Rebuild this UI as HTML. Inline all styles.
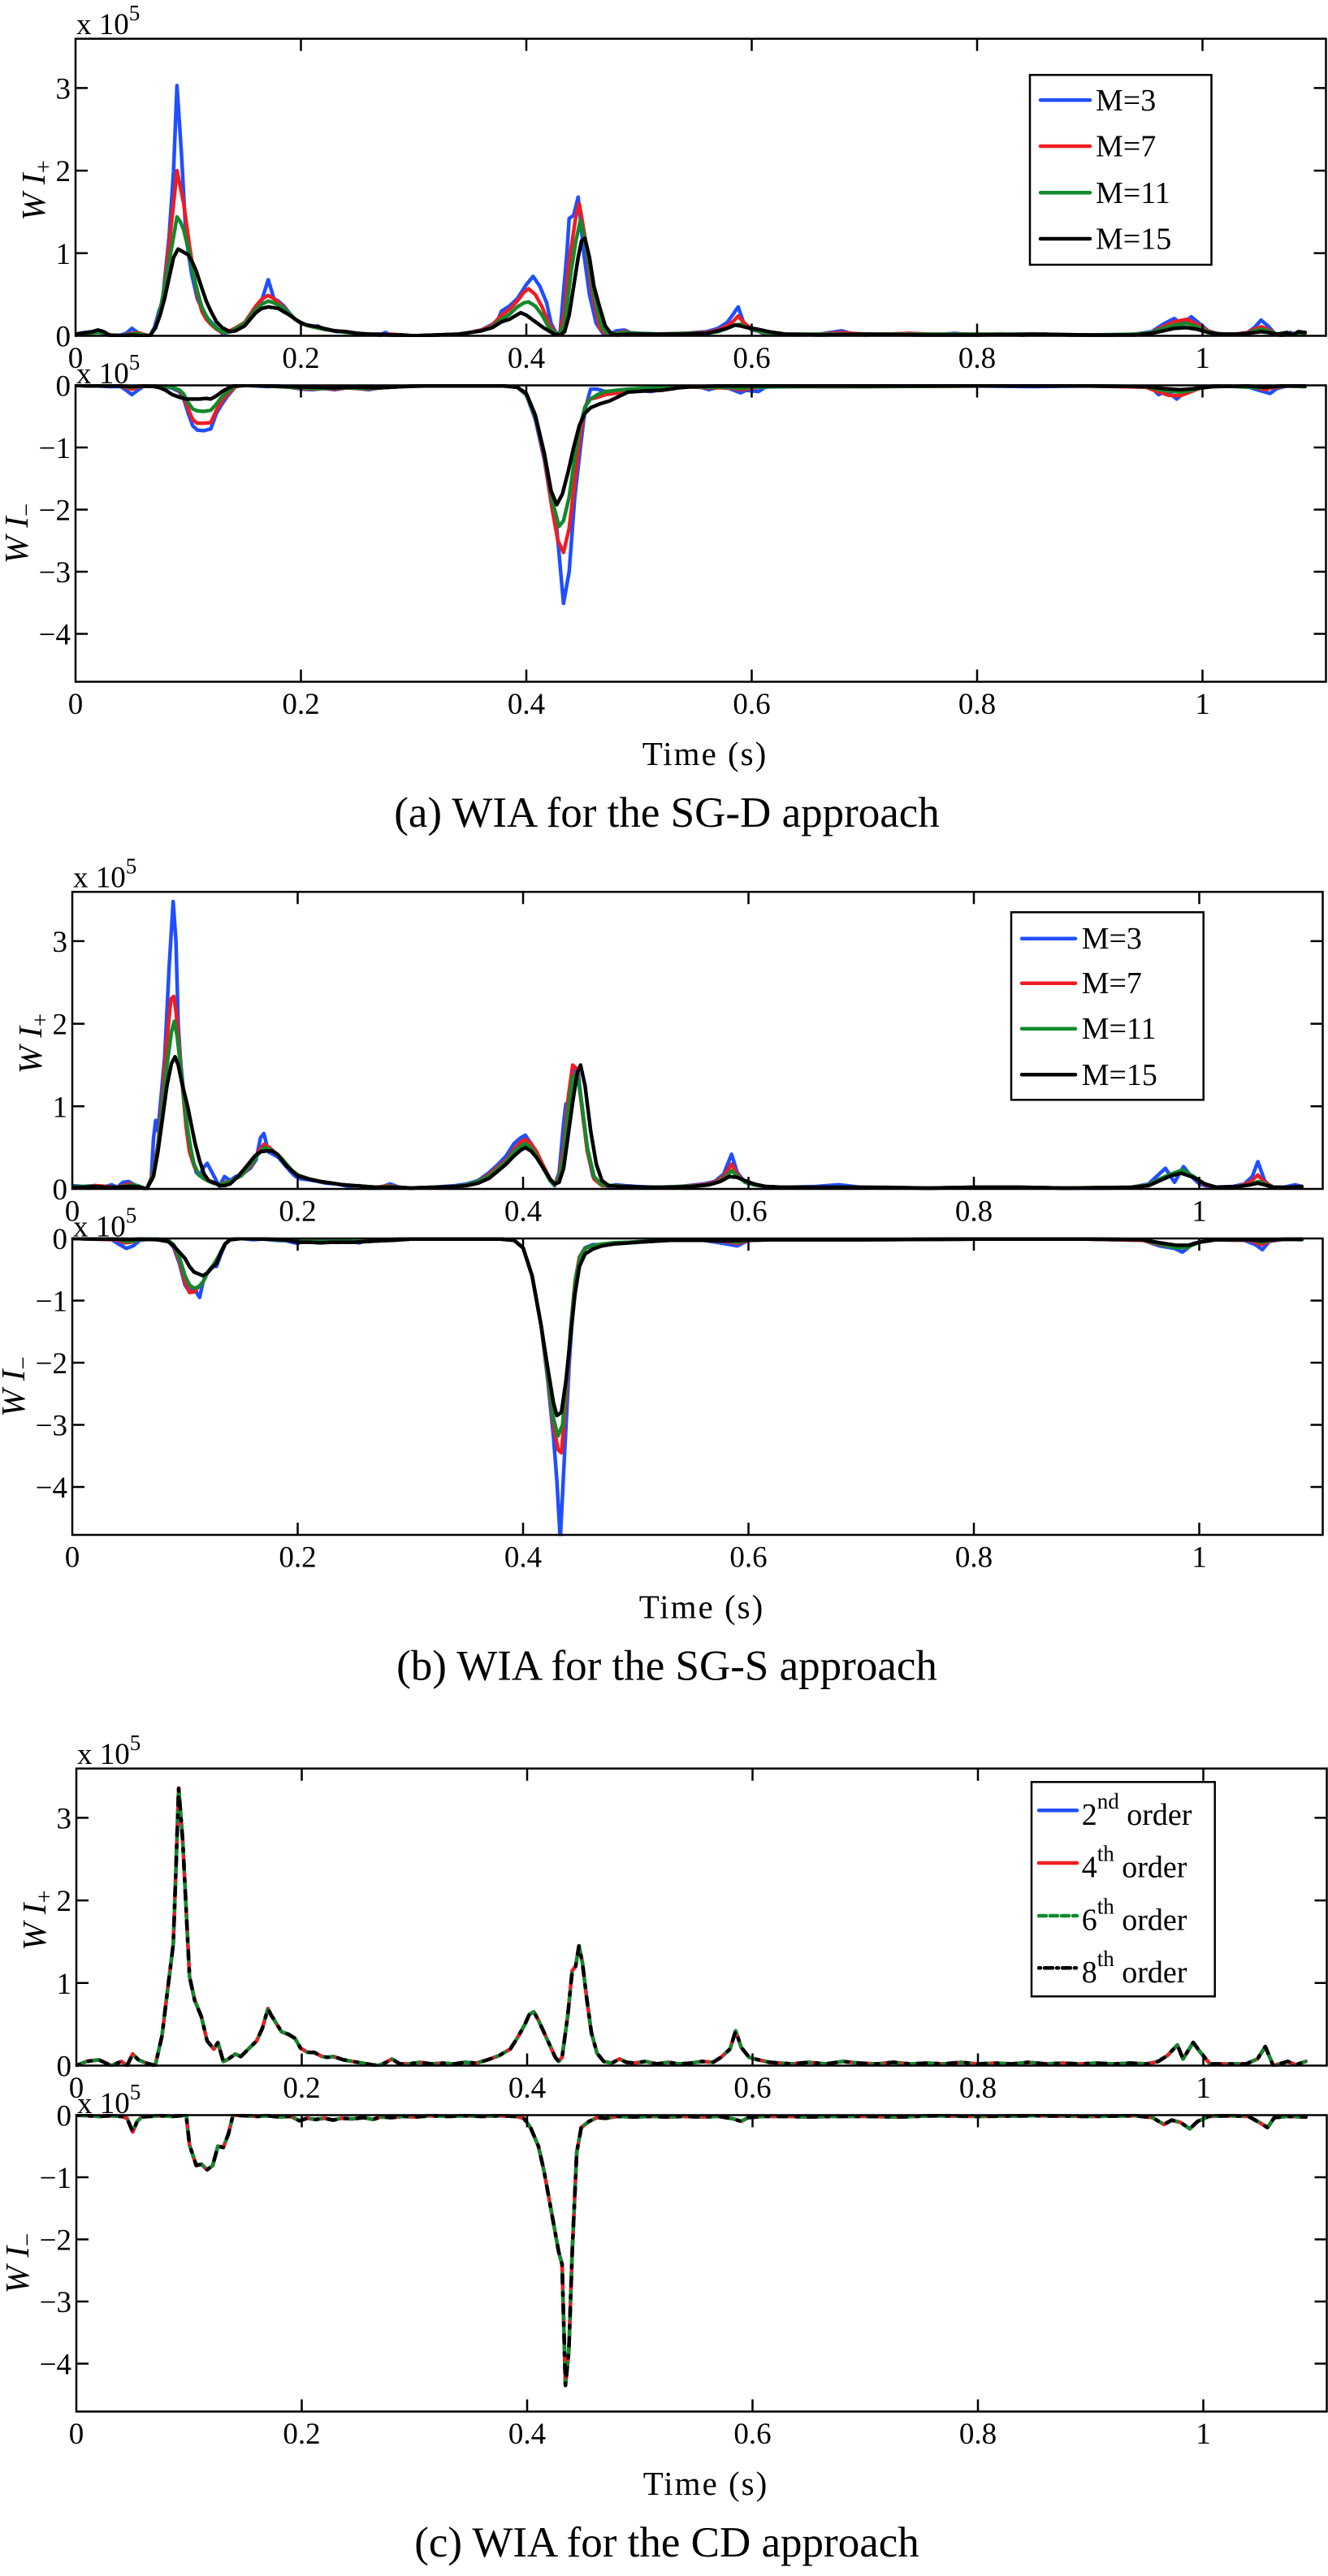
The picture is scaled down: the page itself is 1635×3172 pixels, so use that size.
<!DOCTYPE html>
<html><head><meta charset="utf-8"><style>
html,body{margin:0;padding:0;background:#fff}
svg{display:block}
text{font-family:"Liberation Serif","Times New Roman",serif;fill:#000}
.c{fill:none;stroke-width:4.5;stroke-linejoin:round;stroke-linecap:round}
.b{stroke:#1f4fff}.r{stroke:#ee1d23}.g{stroke:#128a2c}.k{stroke:#000}
.ax{fill:none;stroke:#000;stroke-width:2.5}
.t{font-size:37px}
.lg{font-size:38px}
</style></head><body>
<svg width="1635" height="3172" viewBox="0 0 1635 3172" xmlns="http://www.w3.org/2000/svg">
<defs>
<clipPath id="cpP"><rect x="92" y="46" width="1542" height="369"/></clipPath>
<clipPath id="cpM"><rect x="92" y="473" width="1542" height="368"/></clipPath>
<polyline id="cmain" vector-effect="non-scaling-stroke" points="0,0 9,5 20,7 31,0 40,5 45,0 50,14 55,7 62,3 70,0 76,36 81,92 86,147 88.4,239 90.8,336 94.4,272 100.4,108 105,79 111,59 116,30 122,20 125.6,28 130.4,5 135,8 141,14 146,11 160,30 165,45 170,69 172.5,62 182,41 188,38 194,33 199,21 205,16 211,16 218,11 223,10 228,11 237,7 245,5 254,3 262,1 268,0 275,4 280,8 287,2 295,2 305,4 315,2 325,3 335,2 345,4 355,3 365,7 375,12 385,20 392,35 398,50 402,62 406,65 410,55 415,40 420,25 425,10 428,5 431,10 436,60 440,115 443,120 446,145 449,125 453,80 457,40 462,15 468,5 475,3 482,8 488,4 495,3 505,5 515,2 525,4 535,2 545,3 555,5 565,4 572,10 580,20 585,42 590,22 597,10 605,7 615,4 625,3 635,2 650,4 665,2 680,5 695,3 710,2 725,4 740,2 755,3 770,2 785,4 800,2 815,3 830,2 845,4 860,2 875,3 890,2 905,3 920,2 935,3 950,2 960,5 968,12 977,25 982,8 991,28 998,15 1006,2 1020,2 1038,2 1048,8 1055,23 1062,0 1070,3 1075,5 1082,1 1091,5"/>
<polyline id="cminus" vector-effect="non-scaling-stroke" points="0,0 10,-1 20,-2 30,-1 40,-2 45,-5 50,-27 54,-10 58,-3 65,-2 75,-1 85,-2 92,-1 97.5,0 100.4,-48 106.4,-81 111,-79 116,-88 121,-81 125.6,-50 130.4,-52 135,-30 139,0 150,-1 160,-2 170,-1 180,-3 190,-2 198,-9 205,-5 212,-7 220,-5 228,-8 235,-5 245,-6 255,-4 263,-7 270,-3 280,-4 290,-2 300,-3 315,-1 330,-2 345,-1 360,-2 375,-1 390,-2 397,-5 403,-20 410,-50 415,-90 420,-140 425,-190 428,-220 431,-240 434,-435 437,-380 440,-220 444,-60 448,-20 455,-10 462,-4 470,-5 480,-2 495,-3 510,-2 525,-3 540,-2 555,-3 570,-2 583,-6 590,-10 596,-4 610,-2 630,-2 650,-3 670,-2 700,-2 730,-3 760,-1 800,-2 850,-1 900,-2 940,-1 955,-4 965,-15 972,-8 980,-12 988,-22 995,-10 1005,-2 1020,-1 1040,-2 1050,-12 1057,-20 1063,-4 1075,-2 1091,-3"/>
<path id="ticks" class="ax" d="M370.5,47.7v15M648,47.7v15M925.5,47.7v15M1203,47.7v15M1480.5,47.7v15M370.5,413.5v-15M648,413.5v-15M925.5,413.5v-15M1203,413.5v-15M1480.5,413.5v-15M370.5,474.5v15M648,474.5v15M925.5,474.5v15M1203,474.5v15M1480.5,474.5v15M370.5,839.5v-15M648,839.5v-15M925.5,839.5v-15M1203,839.5v-15M1480.5,839.5v-15M93,311.8h15M93,210.1h15M93,108.4h15M1632.5,311.8h-15M1632.5,210.1h-15M1632.5,108.4h-15M93,551h15M93,627.5h15M93,704h15M93,780.5h15M1632.5,551h-15M1632.5,627.5h-15M1632.5,704h-15M1632.5,780.5h-15"/>
<g id="frame">
<rect class="ax" x="93" y="47.7" width="1539.5" height="365.8"/>
<rect class="ax" x="93" y="474.5" width="1539.5" height="365"/>
<use href="#ticks"/>
<g class="t">
<text x="87" y="426.5" text-anchor="end">0</text>
<text x="87" y="324.8" text-anchor="end">1</text>
<text x="87" y="223.1" text-anchor="end">2</text>
<text x="87" y="121.4" text-anchor="end">3</text>
<text x="87" y="487.5" text-anchor="end">0</text>
<text x="87" y="564" text-anchor="end">−1</text>
<text x="87" y="640.5" text-anchor="end">−2</text>
<text x="87" y="717" text-anchor="end">−3</text>
<text x="87" y="793.5" text-anchor="end">−4</text>
<g text-anchor="middle">
<text x="93" y="453">0</text><text x="370.5" y="453">0.2</text><text x="648" y="453">0.4</text><text x="925.5" y="453">0.6</text><text x="1203" y="453">0.8</text><text x="1480.5" y="453">1</text>
<text x="93" y="879">0</text><text x="370.5" y="879">0.2</text><text x="648" y="879">0.4</text><text x="925.5" y="879">0.6</text><text x="1203" y="879">0.8</text><text x="1480.5" y="879">1</text>
</g>
<text x="94" y="42">x 10<tspan dy="-17" font-size="27">5</tspan></text>
<text x="94" y="472">x 10<tspan dy="-17" font-size="27">5</tspan></text>
</g>
<text transform="translate(55,234.5) rotate(-90)" text-anchor="middle" font-size="41" font-style="italic">W I<tspan dy="8" font-size="29" font-style="normal">+</tspan></text>
<text transform="translate(34,657) rotate(-90)" text-anchor="middle" font-size="41" font-style="italic">W I<tspan dy="8" font-size="29" font-style="normal">−</tspan></text>
<text x="868" y="942" text-anchor="middle" font-size="41" letter-spacing="2">Time (s)</text>
</g>
</defs>

<!-- ============ PANEL A ============ -->
<g>
<g clip-path="url(#cpP)"><g transform="translate(93,413.5) scale(1.3875,-1.017)">
<polyline class="c b" vector-effect="non-scaling-stroke" points="0,2 8,4 15,5 20,7 25,3 30,0 40,1 45,3 50,9 55,4 60,1 66,0 70,10 74,30 77,40 80,80 83,120 87,200 90,303 94,220 98,120 103,75 108,45 113,30 118,20 125,10 130,3 135,4 140,8 145,11 150,15 155,25 160,35 165,42 171,68 176,45 180,42 185,36 190,27 195,20 198,17 205,13 210,11 215,12 220,8 225,7 232,5 240,5 250,3 260,2 270,1 275,4 280,1 290,0 300,0 320,1 340,2 350,4 360,7 370,14 375,20 378,30 385,36 392,45 400,62 406,72 412,60 418,40 422,15 427,2 430,5 436,100 438,142 442,146 446,168 451,100 456,50 462,15 468,3 474,2 480,6 487,7 492,4 500,3 520,2 540,3 560,5 570,9 578,16 583,25 588,35 593,15 600,7 605,6 610,3 620,2 640,1 660,2 680,6 690,2 700,1 720,2 740,3 760,1 780,3 800,1 820,2 840,1 860,2 880,1 900,0 920,1 940,2 955,5 965,14 975,21 982,14 990,23 998,14 1005,6 1012,3 1020,2 1030,2 1040,4 1046,10 1052,19 1058,12 1064,3 1070,0 1078,4 1084,1 1091,4"/>
<polyline class="c r" vector-effect="non-scaling-stroke" points="0,1 10,2 20,5 25,4 30,1 40,0 50,3 55,4 60,2 66,0 71,10 75,30 79,60 83,110 87,160 90,200 93,180 96,160 101,110 105,75 108,50 112,30 116,20 120,14 125,8 130,4 135,5 140,8 150,16 160,36 165,44 171,49 176,45 183,37 190,27 195,20 200,15 210,11 220,8 230,6 240,5 250,3 260,2 270,1 280,2 290,1 300,0 320,1 340,2 350,4 360,7 370,13 378,25 385,32 392,42 398,53 402,57 408,50 414,35 420,15 426,3 430,4 434,30 438,90 444,145 447,160 452,120 458,55 465,10 470,3 476,2 482,4 488,5 495,3 510,2 540,3 560,4 570,7 578,12 584,18 588,24 593,16 600,8 610,4 620,2 640,2 660,2 680,4 700,2 720,2 740,3 760,2 780,2 800,2 820,2 840,1 860,2 880,1 900,1 920,1 940,2 955,4 965,11 975,17 986,20 995,14 1005,6 1012,3 1020,2 1030,2 1040,4 1046,8 1052,11 1058,8 1064,3 1070,1 1080,2 1091,4"/>
<polyline class="c g" vector-effect="non-scaling-stroke" points="0,2 10,3 20,4 25,3 30,1 40,0 50,2 55,3 60,1 66,0 71,10 75,30 79,58 83,90 87,120 90,144 93,138 96,128 101,100 105,72 108,55 112,35 116,24 120,16 125,9 130,5 135,4 140,7 150,15 160,32 165,38 171,42 176,40 183,35 190,27 195,20 200,15 210,11 220,8 230,6 240,4 250,3 260,2 270,1 280,1 290,1 300,0 320,1 340,2 350,4 360,6 370,11 378,20 385,26 392,35 398,40 402,41 408,36 414,25 420,10 426,3 430,3 434,15 440,80 444,115 448,140 453,110 460,50 467,10 472,3 480,3 488,4 500,3 520,2 540,3 560,3 570,5 578,9 585,13 590,14 596,10 605,6 615,3 630,2 660,2 700,2 750,2 800,2 850,2 900,1 940,2 955,4 965,9 975,13 986,15 995,11 1005,5 1015,2 1030,2 1040,3 1046,6 1052,8 1058,6 1066,2 1080,2 1091,3"/>
<polyline class="c k" vector-effect="non-scaling-stroke" points="0,2 10,4 15,5 20,7 25,5 30,1 40,0 50,1 60,0 66,0 71,10 75,25 79,45 83,70 87,95 91,105 95,102 100,98 104,88 107,79 112,58 116,42 120,30 125,17 130,10 137,5 142,6 150,12 160,28 165,33 171,35 176,34 180,33 185,29 190,25 195,20 200,16 205,13 210,12 215,11 220,9 230,6 240,5 250,3 260,2 270,2 280,1 290,1 300,0 320,1 340,2 350,4 360,6 370,10 378,17 385,20 390,24 395,28 400,25 405,20 410,15 415,10 420,6 425,2 430,1 434,5 438,25 442,60 446,95 449,115 452,118 456,95 460,60 465,35 470,12 475,3 480,1 490,2 500,2 520,2 540,2 560,3 570,6 578,9 585,13 590,12 596,10 605,8 615,5 630,2 660,1 700,2 750,1 800,1 850,2 900,1 940,1 955,3 965,6 975,9 985,10 995,8 1005,4 1015,2 1030,2 1040,3 1046,4 1052,5 1058,4 1066,2 1075,4 1080,1 1085,5 1091,4"/>
</g></g>
<g clip-path="url(#cpM)"><g transform="translate(93,474.5) scale(1.3875,-0.765)">
<polyline class="c b" vector-effect="non-scaling-stroke" points="0,0 20,-1 30,-2 40,-2 45,-8 50,-15 55,-8 60,-2 66,-1 75,-2 85,-4 92,-10 96,-22 100,-45 104,-65 108,-72 114,-73 120,-70 125,-45 130,-30 135,-17 142,-2 150,0 160,-1 170,-2 180,-1 190,-3 200,-6 210,-7 220,-5 230,-7 240,-4 250,-5 260,-7 270,-4 280,-3 290,-2 300,-1 320,0 340,-1 360,-1 380,-1 392,-3 400,-15 408,-55 416,-120 423,-200 427,-230 433,-351 438,-300 443,-180 448,-100 452,-40 457,-6 463,-6 470,-10 478,-12 488,-10 500,-8 510,-10 520,-7 530,-3 540,-2 555,-3 562,-7 570,-3 580,-5 590,-12 595,-8 606,-10 612,-3 620,-1 640,-2 660,-1 700,-2 750,-1 800,-1 850,-2 900,-1 940,-2 955,-4 961,-15 968,-8 977,-22 985,-10 995,-4 1010,-1 1040,-2 1050,-8 1060,-13 1066,-5 1075,-1 1091,-2"/>
<polyline class="c r" vector-effect="non-scaling-stroke" points="0,0 20,-1 40,-1 45,-4 50,-6 55,-3 60,-1 75,-2 85,-3 92,-8 96,-18 100,-38 104,-55 108,-61 114,-61 120,-60 125,-40 130,-25 135,-14 142,-2 150,0 170,-1 190,-3 200,-5 210,-6 220,-5 230,-6 240,-4 250,-5 260,-6 270,-4 280,-3 300,-1 340,-1 380,-1 392,-3 400,-15 408,-50 416,-115 423,-200 428,-250 433,-269 438,-230 443,-155 448,-80 452,-35 456,-22 462,-20 470,-15 478,-13 488,-11 500,-9 510,-9 520,-6 530,-3 540,-2 560,-4 580,-4 590,-7 600,-5 610,-2 640,-2 700,-2 800,-1 900,-1 950,-3 960,-10 970,-16 980,-17 990,-10 1000,-3 1020,-1 1045,-3 1055,-7 1062,-4 1075,-1 1091,-2"/>
<polyline class="c g" vector-effect="non-scaling-stroke" points="0,0 20,-1 40,-1 48,-3 55,-2 70,-1 85,-3 92,-7 96,-14 100,-28 104,-38 108,-41 114,-42 120,-40 125,-30 130,-18 135,-10 142,-1 150,0 170,-1 190,-3 200,-4 210,-5 220,-5 240,-4 260,-5 280,-3 300,-1 340,-1 380,-1 392,-3 400,-15 408,-50 416,-110 423,-185 429,-227 433,-218 438,-180 443,-115 448,-63 452,-35 457,-22 463,-15 470,-10 480,-8 490,-6 500,-5 520,-4 540,-2 560,-3 580,-3 590,-5 600,-3 640,-2 700,-2 800,-1 900,-1 950,-2 965,-8 980,-11 990,-8 1000,-3 1020,-1 1050,-4 1058,-3 1075,-1 1091,-2"/>
<polyline class="c k" vector-effect="non-scaling-stroke" points="0,0 10,-1 20,-1 30,-1 40,-1 50,-2 60,-1 70,-2 75,-4 80,-8 86,-15 92,-19 98,-22 104,-22 110,-22 116,-21 120,-22 125,-17 130,-10 135,-5 140,-1 150,0 170,-1 190,-2 210,-3 230,-4 250,-3 270,-4 290,-2 310,-1 340,-1 380,-1 392,-3 400,-13 408,-48 416,-110 422,-170 427,-192 432,-175 437,-140 442,-100 447,-65 452,-45 457,-36 465,-30 474,-25 482,-18 490,-11 505,-9 520,-8 535,-4 550,-2 570,-1 600,-1 640,-1 700,-1 800,-1 900,-1 950,-2 965,-5 980,-7 995,-5 1010,-2 1040,-1 1055,-3 1070,-1 1091,-1"/>
</g></g>
<use href="#frame"/>
<rect x="1268" y="92.3" width="223.5" height="233.7" fill="#fff" stroke="#000" stroke-width="2.5"/>
<line class="c b" x1="1281" y1="123.3" x2="1342" y2="123.3"/>
<line class="c r" x1="1281" y1="180" x2="1342" y2="180"/>
<line class="c g" x1="1281" y1="237.3" x2="1342" y2="237.3"/>
<line class="c k" x1="1281" y1="294" x2="1342" y2="294"/>
<g class="lg">
<text x="1349" y="136">M=3</text>
<text x="1349" y="192.7">M=7</text>
<text x="1349" y="250">M=11</text>
<text x="1349" y="306.7">M=15</text>
</g>
<text x="821" y="1018" text-anchor="middle" font-size="53">(a) WIA for the SG-D approach</text>
</g>

<!-- ============ PANEL B ============ -->
<g transform="translate(-4,1050.5)">
<g clip-path="url(#cpP)"><g transform="translate(93,413.5) scale(1.3875,-1.017)">
<polyline class="c b" vector-effect="non-scaling-stroke" points="0,4 10,3 20,4 30,3 35,5 40,2 45,8 50,9 55,5 60,2 66,0 70,10 72,60 74,83 76,70 78,100 82,160 86,270 89.5,348 92,300 94,200 96,156 100,100 102.5,66 106,40 110,20 113,16 116,25 119.7,31 124,20 130.5,3 135,15 140,10 145,15 150,17 158,25 163,35 167,62 170,67 174,45 178,42 183,38 188,30 193,22 198,15 203,12 210,11 218,9 225,7 235,6 245,3 255,4 262,1 272,1 282,6 290,2 300,1 320,2 340,4 350,6 360,10 370,20 378,30 385,40 392,55 398,62 402,65 407,55 412,45 418,25 424,10 428,4 432,20 436,80 438,103 442,105 445,148 449,140 453,90 458,40 462,15 468,6 475,3 482,5 490,4 500,3 520,2 540,3 560,6 570,9 578,18 585,42 590,20 597,8 605,5 615,3 630,2 660,3 680,5 700,2 720,2 760,1 800,2 840,2 880,1 920,1 940,2 955,6 962,15 970,25 978,8 986,27 993,15 1000,6 1010,2 1030,3 1040,6 1047,15 1052,33 1058,10 1064,2 1075,2 1085,5 1091,3"/>
<polyline class="c r" vector-effect="non-scaling-stroke" points="0,2 10,2 20,4 30,3 40,2 45,4 50,6 55,5 60,2 66,0 72,20 76,55 80,110 84,180 87.5,230 90,233 92,215 95,170 98,120 101,75 104,45 108,28 112,18 116,14 120,11 125,8 130,5 135,8 140,9 150,16 160,30 165,45 170,54 175,50 180,44 185,38 190,30 195,22 200,17 210,12 220,9 230,7 240,5 250,4 260,3 270,2 280,4 290,2 300,1 320,2 340,3 350,5 360,9 370,18 378,27 385,35 392,48 398,57 402,60 407,55 412,45 418,28 424,12 428,5 432,15 436,50 440,110 444,150 448,145 452,100 457,45 463,12 470,4 480,4 490,3 500,2 520,2 540,3 560,5 570,8 578,15 585,30 590,18 597,8 605,5 615,3 630,2 660,2 700,2 760,1 800,2 840,2 880,1 940,2 955,5 965,12 975,18 985,22 995,14 1005,5 1015,2 1035,3 1045,8 1052,17 1058,8 1066,2 1080,2 1091,3"/>
<polyline class="c g" vector-effect="non-scaling-stroke" points="0,3 10,3 20,3 30,2 40,2 50,4 55,5 60,3 66,0 72,18 76,50 80,100 84,150 88,190 90.5,203 93,185 96,150 99,110 102,75 105,50 108,30 112,18 116,13 120,10 125,7 130,5 135,7 140,9 150,16 160,32 165,42 170,50 175,48 180,44 185,38 190,30 195,22 200,17 210,12 220,9 230,7 240,5 250,4 260,3 270,2 280,3 290,2 300,1 320,2 340,3 350,5 360,9 370,16 378,25 385,33 392,45 398,52 402,55 407,50 412,40 418,25 424,10 428,5 432,12 436,40 440,95 444,135 448,140 452,105 457,50 463,15 470,5 480,4 490,3 500,2 520,2 540,3 560,4 570,7 578,12 585,22 590,16 597,8 605,5 615,3 630,2 660,2 700,2 760,1 800,2 840,2 880,1 940,2 955,5 965,12 975,18 985,23 995,15 1005,6 1015,2 1035,3 1045,5 1052,9 1058,6 1066,2 1080,2 1091,2"/>
<polyline class="c k" vector-effect="non-scaling-stroke" points="0,2 10,2 20,3 30,2 40,2 50,3 55,3 60,2 66,0 72,15 76,45 80,85 84,125 88,152 91.2,160 94,150 97,130 102.5,99 106,75 109,55 113,34 117,18 121,10 127,7 131,4 135,4 140,6 147,15 155,28 162,40 167,45 172,46 177,46 182,42 186,35 190,28 195,22 200,16 210,12 220,9 230,7 240,5 250,4 260,3 270,2 280,2 290,2 300,1 320,2 340,3 350,4 360,7 370,13 378,22 385,30 392,40 398,47 402,50 407,46 412,38 418,25 424,12 428,6 432,8 436,25 440,65 444,105 448,140 451,150 455,125 460,70 465,30 470,10 476,4 485,3 495,3 510,2 530,2 550,3 565,5 575,9 583,15 590,14 597,10 605,6 615,3 630,2 660,2 700,2 760,1 800,2 840,2 880,1 940,2 955,4 965,10 975,16 984,19 995,14 1005,6 1015,2 1035,3 1045,5 1052,7 1058,5 1066,2 1080,2 1091,3"/>
</g></g>
<g clip-path="url(#cpM)"><g transform="translate(93,474.5) scale(1.3875,-0.765)">
<polyline class="c b" vector-effect="non-scaling-stroke" points="0,0 20,-1 35,-2 42,-10 48,-16 54,-12 60,-3 70,-1 85,-3 90,-15 95,-40 100,-75 103,-83 108,-80 113,-95 116,-70 120,-55 124,-45 128,-45 132,-25 136,-8 140,-2 150,0 160,-2 170,-1 180,-3 190,-4 200,-8 205,-4 215,-5 225,-4 235,-6 245,-4 255,-7 260,-3 270,-4 280,-3 290,-1 300,-1 340,-1 380,-1 392,-3 400,-15 408,-60 416,-140 422,-230 427,-320 430,-390 433,-485 437,-340 441,-200 445,-90 450,-30 455,-15 462,-10 470,-10 480,-8 495,-6 510,-5 530,-3 560,-3 575,-7 590,-12 600,-3 620,-2 660,-2 700,-2 800,-1 900,-1 950,-3 965,-12 978,-16 985,-22 995,-8 1010,-2 1040,-3 1050,-10 1056,-18 1062,-5 1075,-1 1091,-2"/>
<polyline class="c r" vector-effect="non-scaling-stroke" points="0,0 20,-1 40,-2 46,-7 52,-6 60,-2 70,-1 85,-3 90,-12 95,-35 100,-70 104,-87 108,-86 112,-78 116,-70 120,-55 125,-45 130,-30 135,-10 140,-2 150,0 170,-1 190,-3 200,-5 210,-4 230,-5 250,-5 270,-4 290,-2 300,-1 340,-1 380,-1 392,-3 400,-15 408,-60 416,-140 422,-225 427,-300 431,-340 434,-345 438,-260 442,-150 446,-70 450,-30 455,-16 462,-12 470,-10 480,-8 495,-6 510,-5 530,-3 560,-3 580,-5 590,-8 600,-3 620,-2 700,-2 800,-1 900,-1 950,-3 965,-10 978,-14 988,-15 998,-7 1010,-2 1045,-3 1055,-10 1062,-4 1075,-1 1091,-2"/>
<polyline class="c g" vector-effect="non-scaling-stroke" points="0,0 20,-1 40,-1 48,-5 55,-4 62,-1 75,-1 85,-3 90,-10 95,-30 100,-60 104,-75 108,-80 112,-78 116,-70 120,-55 125,-43 130,-28 135,-10 140,-2 150,0 170,-1 190,-3 200,-4 220,-5 240,-4 260,-5 280,-3 300,-1 340,-1 380,-1 392,-3 400,-15 408,-60 416,-140 422,-220 427,-290 431,-318 435,-300 439,-220 443,-130 447,-60 451,-28 456,-15 463,-11 470,-9 480,-7 495,-6 510,-4 530,-3 560,-3 580,-4 590,-6 600,-3 620,-2 700,-2 800,-1 900,-1 950,-2 965,-9 980,-15 990,-14 1000,-6 1015,-2 1045,-2 1055,-6 1062,-3 1075,-1 1091,-2"/>
<polyline class="c k" vector-effect="non-scaling-stroke" points="0,0 20,-1 40,-1 50,-2 60,-1 75,-2 85,-5 90,-12 95,-22 100,-32 104,-45 108,-54 112,-57 116,-60 120,-55 124,-47 128,-40 132,-22 136,-8 140,-2 150,0 170,-1 190,-2 200,-6 210,-6 220,-7 230,-6 240,-6 250,-6 260,-5 270,-4 285,-3 300,-1 340,-1 380,-1 392,-3 400,-15 408,-60 416,-140 422,-210 427,-265 430,-285 434,-280 438,-230 442,-160 446,-90 450,-45 455,-25 462,-17 470,-12 480,-9 495,-7 510,-5 530,-3 560,-3 580,-4 600,-3 620,-2 700,-2 800,-1 900,-1 950,-2 965,-7 980,-11 990,-11 1000,-6 1015,-2 1045,-2 1055,-4 1065,-2 1091,-1"/>
</g></g>
<use href="#frame"/>
<rect x="1249" y="72.8" width="236.7" height="231" fill="#fff" stroke="#000" stroke-width="2.5"/>
<line class="c b" x1="1262" y1="105.2" x2="1328" y2="105.2"/>
<line class="c r" x1="1262" y1="160.2" x2="1328" y2="160.2"/>
<line class="c g" x1="1262" y1="216.2" x2="1328" y2="216.2"/>
<line class="c k" x1="1262" y1="272.8" x2="1328" y2="272.8"/>
<g class="lg">
<text x="1335.7" y="117.7">M=3</text>
<text x="1335.7" y="172.7">M=7</text>
<text x="1335.7" y="228.7">M=11</text>
<text x="1335.7" y="285.3">M=15</text>
</g>
<text x="825" y="1018" text-anchor="middle" font-size="53">(b) WIA for the SG-S approach</text>
</g>

<!-- ============ PANEL C ============ -->
<g transform="translate(1,2130)">
<g clip-path="url(#cpP)"><g transform="translate(93,413.5) scale(1.3875,-1.017)">
<use href="#cmain" class="c b"/>
<use href="#cmain" class="c r"/>
<use href="#cmain" class="c g" stroke-dasharray="12 10" stroke-linecap="butt"/>
<use href="#cmain" class="c k" stroke-dasharray="10 12 3 12" stroke-dashoffset="6" stroke-linecap="butt"/>
</g></g>
<g clip-path="url(#cpM)"><g transform="translate(93,474.5) scale(1.3875,-0.765)">
<use href="#cminus" class="c b"/>
<use href="#cminus" class="c r"/>
<use href="#cminus" class="c g" stroke-dasharray="12 10" stroke-linecap="butt"/>
<use href="#cminus" class="c k" stroke-dasharray="10 12 3 12" stroke-dashoffset="6" stroke-linecap="butt"/>
</g></g>
<use href="#frame"/>
<rect x="1269" y="64.3" width="225.7" height="264" fill="#fff" stroke="#000" stroke-width="2.5"/>
<line class="c b" x1="1278" y1="99.3" x2="1325" y2="99.3"/>
<line class="c r" x1="1278" y1="164" x2="1325" y2="164"/>
<line class="c g" x1="1278" y1="229" x2="1325" y2="229" stroke-dasharray="9 5" stroke-linecap="butt"/>
<line class="c k" x1="1278" y1="293.3" x2="1325" y2="293.3" stroke-dasharray="2 5 10 5" stroke-linecap="butt"/>
<g class="lg" font-size="37">
<text x="1330.7" y="116.8">2<tspan dy="-20" font-size="27">nd</tspan><tspan dy="20"> order</tspan></text>
<text x="1330.7" y="181.5">4<tspan dy="-20" font-size="27">th</tspan><tspan dy="20"> order</tspan></text>
<text x="1330.7" y="246.5">6<tspan dy="-20" font-size="27">th</tspan><tspan dy="20"> order</tspan></text>
<text x="1330.7" y="310.8">8<tspan dy="-20" font-size="27">th</tspan><tspan dy="20"> order</tspan></text>
</g>
<text x="820" y="1018" text-anchor="middle" font-size="53">(c) WIA for the CD approach</text>
</g>
</svg>
</body></html>
